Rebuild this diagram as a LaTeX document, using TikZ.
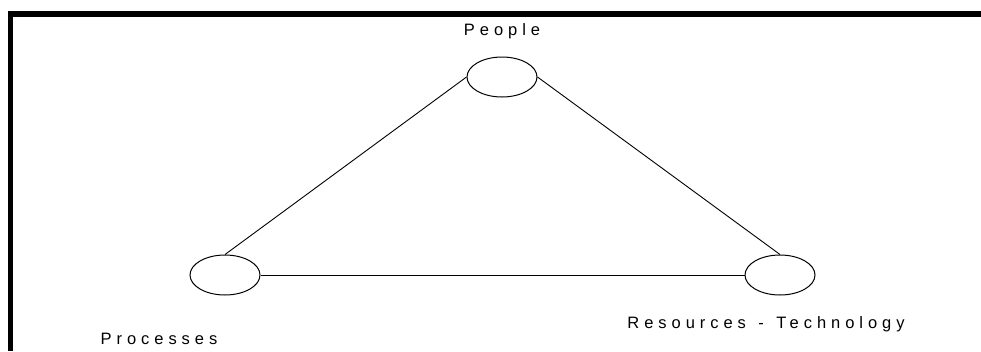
\documentclass[tikz,border=0pt]{standalone}
\usepackage{fontspec}
\setmainfont{Liberation Sans}[LetterSpace=30]
\usetikzlibrary{shapes.geometric}

\begin{document}
\begin{tikzpicture}[x=1pt, y=-1pt,
    hub/.style={ellipse, draw, line width=1pt, minimum width=70pt, minimum height=40pt, inner sep=0pt},
    lbl/.style={anchor=base, inner sep=0pt, font=\fontsize{16.5}{18}\selectfont}]
    \useasboundingbox (0,0) rectangle (981,351);

    \fill (8,11) rectangle (981,17);
    \fill (8,11) rectangle (13,351);

    \node[hub] (people) at (502,77) {};
    \node[hub] (processes) at (225,275) {};
    \node[hub] (resources) at (780,275) {};

    \draw[line width=0.9pt] (people.west) -- (processes.north);
    \draw[line width=0.9pt] (people.east) -- (resources.north);
    \draw[line width=0.9pt] (processes.east) -- (resources.west);

    \node[lbl] (peoplelbl) at (502,35.7) {People};
    \node[lbl] (processeslbl) at (159,344) {Processes};
    \node[lbl] (resourceslbl) at (766,328) {Resources\kern3pt{} - \kern3pt Technology};
\end{tikzpicture}
\end{document}
